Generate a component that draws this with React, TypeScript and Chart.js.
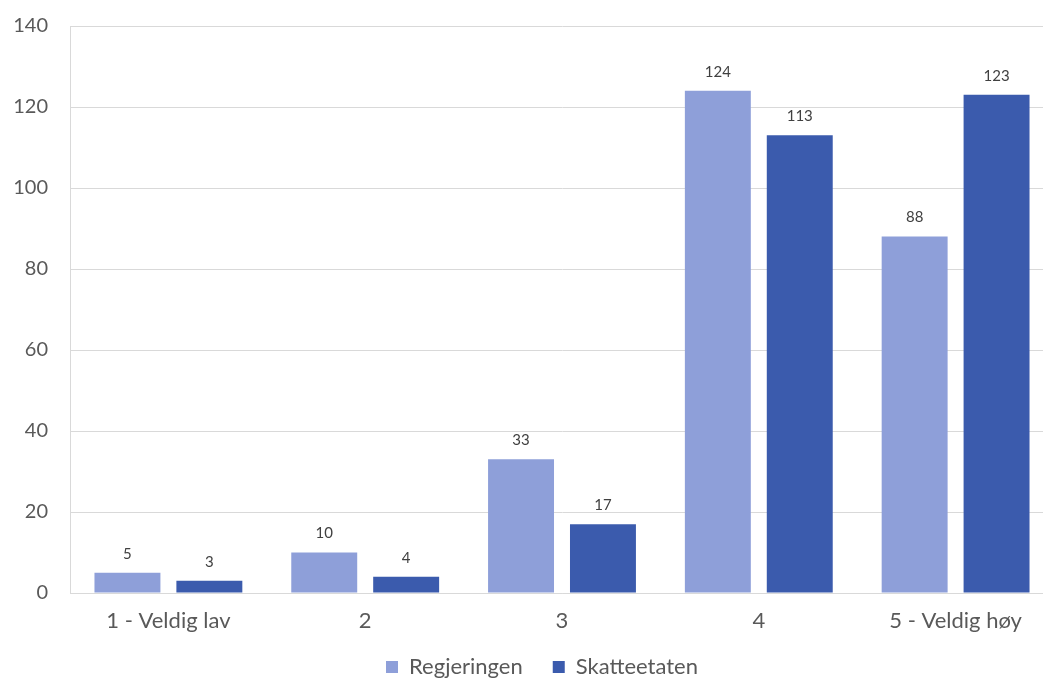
import React, { useEffect, useRef } from "react";
import { Chart, registerables } from "chart.js";

Chart.register(...registerables);

const categories = ["1 - Veldig lav", "2", "3", "4", "5 - Veldig høy"];
const regjeringen = [5, 10, 33, 124, 88];
const skatteetaten = [3, 4, 17, 113, 123];
const seriesNames = ["Regjeringen", "Skatteetaten"];
const seriesColors = ["#8E9FD9", "#3B5BAD"];

const FONT = "Lato, 'Open Sans', sans-serif";

const dataLabels = {
  id: "dataLabels",
  afterDatasetsDraw(chart: any) {
    const ctx = chart.ctx;
    ctx.save();
    ctx.font = `15px ${FONT}`;
    ctx.fillStyle = "#404040";
    ctx.textAlign = "center";
    ctx.textBaseline = "middle";
    chart.data.datasets.forEach((ds: any, i: number) => {
      const meta = chart.getDatasetMeta(i);
      meta.data.forEach((el: any, j: number) => {
        ctx.fillText(String(ds.data[j]), el.x, el.y - 19);
      });
    });
    ctx.restore();
  },
};

const legendShift = {
  id: "legendShift",
  afterLayout(chart: any) {
    const l = chart.legend;
    if (!l) return;
    l.left += 10;
    l.right += 10;
    l.top -= 8;
    l.bottom -= 8;
  },
};

export default function App() {
  const ref = useRef<HTMLCanvasElement | null>(null);
  useEffect(() => {
    document.body.style.margin = "0";
    document.body.style.overflow = "hidden";
    const chart = new Chart(ref.current as HTMLCanvasElement, {
      type: "bar",
      data: {
        labels: categories,
        datasets: [
          {
            label: seriesNames[0],
            data: regjeringen,
            backgroundColor: seriesColors[0],
            categoryPercentage: 0.8325,
            barPercentage: 0.805,
          },
          {
            label: seriesNames[1],
            data: skatteetaten,
            backgroundColor: seriesColors[1],
            categoryPercentage: 0.8325,
            barPercentage: 0.805,
          },
        ],
      },
      options: {
        animation: false,
        responsive: true,
        maintainAspectRatio: false,
        layout: { padding: { left: 10, right: 28, top: 26, bottom: -14 } },
        plugins: {
          legend: {
            position: "bottom",
            labels: {
              font: { family: FONT, size: 22 },
              color: "#595959",
              boxWidth: 12,
              boxHeight: 12,
              padding: 30,
            },
          },
          tooltip: { enabled: false },
        },
        scales: {
          x: {
            grid: { display: false, drawTicks: false },
            border: { display: true, color: "#d9d9d9" },
            ticks: {
              font: { family: FONT, size: 22 },
              color: "#595959",
              padding: 15,
            },
            afterFit(scale: any) {
              scale.height = 41;
              scale.paddingLeft = 0;
              scale.paddingRight = 0;
            },
          },
          y: {
            min: 0,
            max: 140,
            ticks: {
              stepSize: 20,
              font: { family: FONT, size: 20 },
              color: "#595959",
              padding: 22,
            },
            grid: { color: "#d9d9d9", drawTicks: false },
            border: { display: true, color: "#d9d9d9" },
            afterFit(scale: any) {
              scale.width = 60;
              scale.paddingTop = 0;
              scale.paddingBottom = 0;
            },
          },
        },
      },
      plugins: [dataLabels, legendShift],
    });
    return () => chart.destroy();
  }, []);
  return (
    <div style={{ position: "relative", width: 1082, height: 682 }}>
      <canvas ref={ref} />
    </div>
  );
}
